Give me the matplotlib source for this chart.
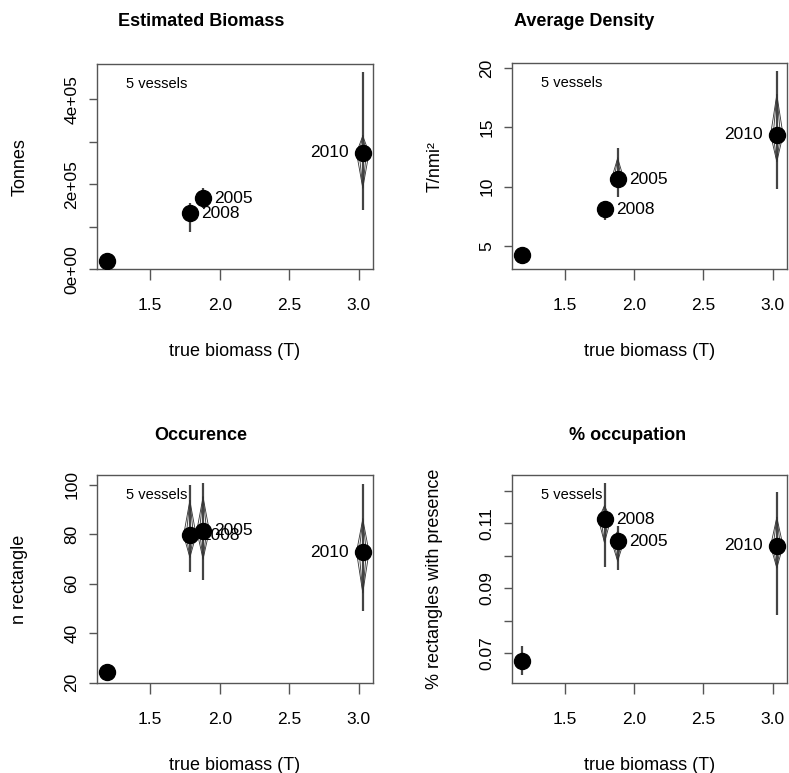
import matplotlib
matplotlib.use("Agg")
import matplotlib.pyplot as plt
import numpy as np

plt.rcParams['font.family'] = ['Liberation Sans', 'DejaVu Sans']

# ---------------- data ----------------
true_biomass = [1.19, 1.785, 1.88, 3.03]
year_labels = ["", "2008", "2005", "2010"]
label_side = ["right", "right", "right", "left"]

# Estimated biomass (tonnes)
bio_est = [1.95e4, 1.32e5, 1.67e5, 2.74e5]
bio_lo = [1.8e4, 0.885e5, 1.45e5, 1.40e5]
bio_hi = [2.1e4, 1.57e5, 1.91e5, 4.65e5]
bio_qlo = [1.9e4, 1.20e5, 1.58e5, 1.91e5]
bio_qhi = [2.0e4, 1.45e5, 1.76e5, 3.14e5]

# Average density (T/nmi2)
den_est = [4.21, 8.10, 10.63, 14.38]
den_lo = [3.65, 7.18, 9.15, 9.80]
den_hi = [4.60, 8.60, 13.25, 19.80]
den_qlo = [3.90, 7.60, 10.00, 12.10]
den_qhi = [4.40, 8.50, 12.40, 17.77]

# Occurrence (n rectangles)
occ_est = [24.2, 79.6, 81.4, 72.8]
occ_lo = [23.0, 64.8, 61.5, 48.9]
occ_hi = [25.3, 99.7, 100.8, 100.4]
occ_qlo = [23.5, 70.6, 69.9, 56.3]
occ_qhi = [24.8, 93.6, 95.0, 86.1]

# % occupation
pct_est = [0.0674, 0.1113, 0.1045, 0.1030]
pct_lo = [0.0631, 0.0966, 0.0957, 0.0817]
pct_hi = [0.0721, 0.1225, 0.1090, 0.1196]
pct_qlo = [0.0650, 0.1040, 0.0983, 0.0962]
pct_qhi = [0.0700, 0.1154, 0.1075, 0.1118]

x_ticks = [1.5, 2.0, 2.5, 3.0]
x_ticklabels = ["1.5", "2.0", "2.5", "3.0"]

panels = [
    dict(title="Estimated Biomass", ylabel="Tonnes", est=bio_est, lo=bio_lo, hi=bio_hi,
         qlo=bio_qlo, qhi=bio_qhi,
         yticks=[0, 1e5, 2e5, 3e5, 4e5], yticklabels=["0e+00", "", "2e+05", "", "4e+05"]),
    dict(title="Average Density", ylabel="T/nmi²", est=den_est, lo=den_lo, hi=den_hi,
         qlo=den_qlo, qhi=den_qhi,
         yticks=[5, 10, 15, 20], yticklabels=["5", "10", "15", "20"]),
    dict(title="Occurence", ylabel="n rectangle", est=occ_est, lo=occ_lo, hi=occ_hi,
         qlo=occ_qlo, qhi=occ_qhi,
         yticks=[20, 40, 60, 80, 100], yticklabels=["20", "40", "60", "80", "100"]),
    dict(title="% occupation", ylabel="% rectangles with presence", est=pct_est, lo=pct_lo,
         hi=pct_hi, qlo=pct_qlo, qhi=pct_qhi,
         yticks=[0.07, 0.08, 0.09, 0.10, 0.11, 0.12],
         yticklabels=["0.07", "", "0.09", "", "0.11", ""]),
]

# ---------------- layout ----------------
W, H = 789, 773
fig = plt.figure(figsize=(W / 100, H / 100), dpi=100)

def rect(l, r, t, b):
    return [l / W, 1 - b / H, (r - l) / W, (b - t) / H]

boxes = [(97, 373, 64, 269.3), (512, 787, 63, 269.3),
         (97, 373, 475, 683), (512, 787, 475, 683)]
title_pos = [(201, 22), (584, 22), (201, 436), (628, 436)]

line_col = "#444444"
spine_col = "#555555"

def rlim(lo, hi):
    r = hi - lo
    return lo - 0.04 * r, hi + 0.04 * r

for p, box, tp in zip(panels, boxes, title_pos):
    ax = fig.add_axes(rect(*box))
    x = np.array(true_biomass)
    est, lo, hi = np.array(p["est"]), np.array(p["lo"]), np.array(p["hi"])
    qlo, qhi = np.array(p["qlo"]), np.array(p["qhi"])

    # vertical interval lines
    ax.vlines(x, lo, hi, color=line_col, lw=1.6, zorder=2)
    # nested diamonds
    for hw in (0.045, 0.026):
        for xi, e, a, b in zip(x, est, qlo, qhi):
            ax.plot([xi, xi - hw, xi, xi + hw, xi], [b, e, a, e, b],
                    color="#333333", lw=0.6, zorder=3)
    # points
    ax.plot(x, est, "o", ms=11.5, color="black", zorder=4)
    # year labels
    for xi, e, lab, side in zip(x, est, year_labels, label_side):
        if not lab:
            continue
        if side == "right":
            ax.annotate(lab, (xi, e), xytext=(8, 0), textcoords="offset points",
                        ha="left", va="center", fontsize=12.5, zorder=5)
        else:
            ax.annotate(lab, (xi, e), xytext=(-10, 0), textcoords="offset points",
                        ha="right", va="center", fontsize=12.5, zorder=5)

    ax.set_xlim(*rlim(min(true_biomass), max(true_biomass)))
    ax.set_ylim(*rlim(lo.min(), hi.max()))

    ax.set_xticks(x_ticks)
    ax.set_xticklabels(x_ticklabels, fontsize=12.5)
    ax.set_yticks(p["yticks"])
    ax.set_yticklabels(p["yticklabels"], fontsize=12.5, rotation=90, va="center")
    ax.tick_params(axis="x", length=8, width=1, color=spine_col, pad=13)
    ax.tick_params(axis="y", length=5.8, width=1, color=spine_col, pad=7)
    for s in ax.spines.values():
        s.set_color(spine_col)
        s.set_linewidth(1)

    bw = box[1] - box[0]
    bh = box[3] - box[2]
    ax.text(0.5, -82 / bh, "true biomass (T)", transform=ax.transAxes,
            ha="center", va="center", fontsize=13)
    ax.text(-77 / bw, 0.5, p["ylabel"], transform=ax.transAxes, rotation=90,
            ha="center", va="center", fontsize=13)
    ax.text(29 / bw, 0.903, "5 vessels", transform=ax.transAxes,
            ha="left", va="center", fontsize=10.5)

    fig.text(tp[0] / W, 1 - tp[1] / H, p["title"], ha="center", va="center",
             fontsize=13, fontweight="bold")

fig.savefig("out.png", dpi=100)
